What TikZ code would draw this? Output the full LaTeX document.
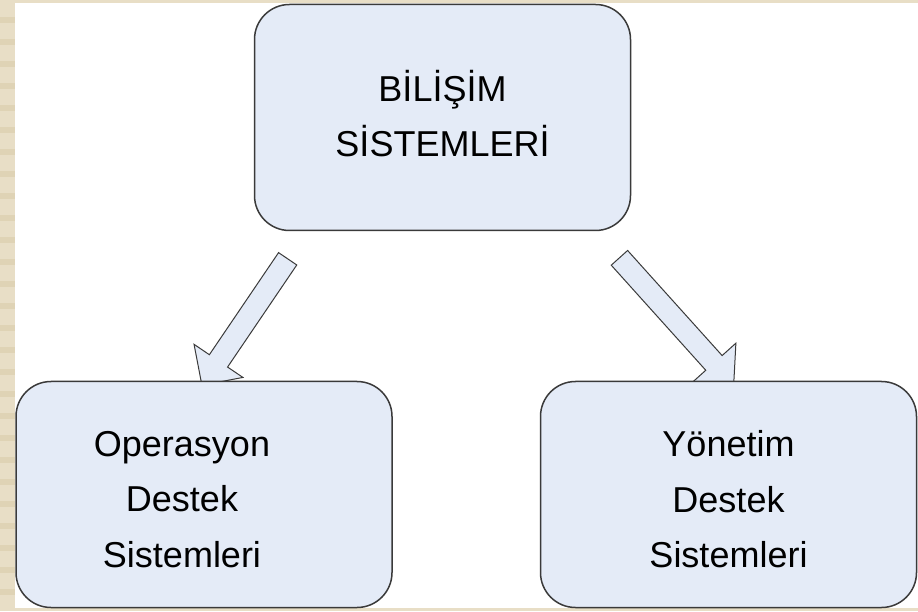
\documentclass[tikz,border=0pt]{standalone}
\usepackage{fontspec}
\setmainfont{Liberation Sans}
\usetikzlibrary{shapes.arrows,calc}
\pgfdeclarelayer{bg}
\pgfdeclarelayer{arrowlayer}
\pgfsetlayers{bg,arrowlayer,main}
\definecolor{paper}{HTML}{E8DEC6}
\definecolor{paperdark}{HTML}{DFD3B5}
\definecolor{boxfill}{HTML}{E4EBF7}
\definecolor{boxline}{HTML}{3A3A3A}
\tikzset{
  sysbox/.style={draw=boxline, line width=1.5pt, fill=boxfill, rounded corners=35pt,
    minimum width=376pt, minimum height=226pt, inner sep=0pt},
  boxtext/.style={align=center, inner sep=0pt, font=\fontsize{36}{55.5}\selectfont},
  blockarrow/.style={single arrow, draw=boxline, line width=1pt, fill=boxfill,
    inner xsep=0pt, inner ysep=10.5pt, single arrow head extend=18.5pt,
    single arrow tip angle=90},
}
\begin{document}
\begin{tikzpicture}[x=1pt,y=1pt]
\useasboundingbox (0,0) rectangle (918,611);
\begin{pgfonlayer}{bg}
  % page background with the striped margin
  \fill[paper] (0,0) rectangle (918,611);
  \foreach \k in {0,...,26} {
    \fill[paperdark] (0,{611-17-22*\k}) rectangle (15,{611-23-22*\k});
  }
  \fill[white] (15,3) rectangle (918,608);
\end{pgfonlayer}

% boxes
\node[sysbox] (top) at (442.5,493.5) {};
\node[sysbox] (ops) at (204,116.5) {};
\node[sysbox] (mgmt) at (728.5,116.5) {};

% box texts
\node[boxtext] (toptext) at ($(top.center)+(0,4)$) {BİLİŞİM\\SİSTEMLERİ};
\node[boxtext] (opstext) at ($(ops.center)+(-22,-5)$) {Operasyon\\Destek\\Sistemleri};
\node[boxtext] (mgmttext) at ($(mgmt.center)+(0,-5)$) {Yönetim\\Destek\\Sistemleri};

% block arrows
\coordinate (lt) at ($(top.south west)+(37,-23)$);
\coordinate (lh) at ($(ops.north)+(1,0)$);
\coordinate (rt) at ($(top.south east)+(-15.5,-22.5)$);
\coordinate (rh) at ($(mgmt.north)+(1.5,0)$);
\begin{pgfonlayer}{arrowlayer}
  \path let \p1=($(lh)-(lt)$), \n1={veclen(\x1,\y1)}, \n2={atan2(\y1,\x1)} in
    node[blockarrow, minimum height=\n1, rotate=\n2] (la) at ($(lt)!0.5!(lh)$) {};
  \path let \p1=($(rh)-(rt)$), \n1={veclen(\x1,\y1)}, \n2={atan2(\y1,\x1)} in
    node[blockarrow, minimum height=\n1, rotate=\n2] (ra) at ($(rt)!0.5!(rh)$) {};
\end{pgfonlayer}
\end{tikzpicture}
\end{document}
